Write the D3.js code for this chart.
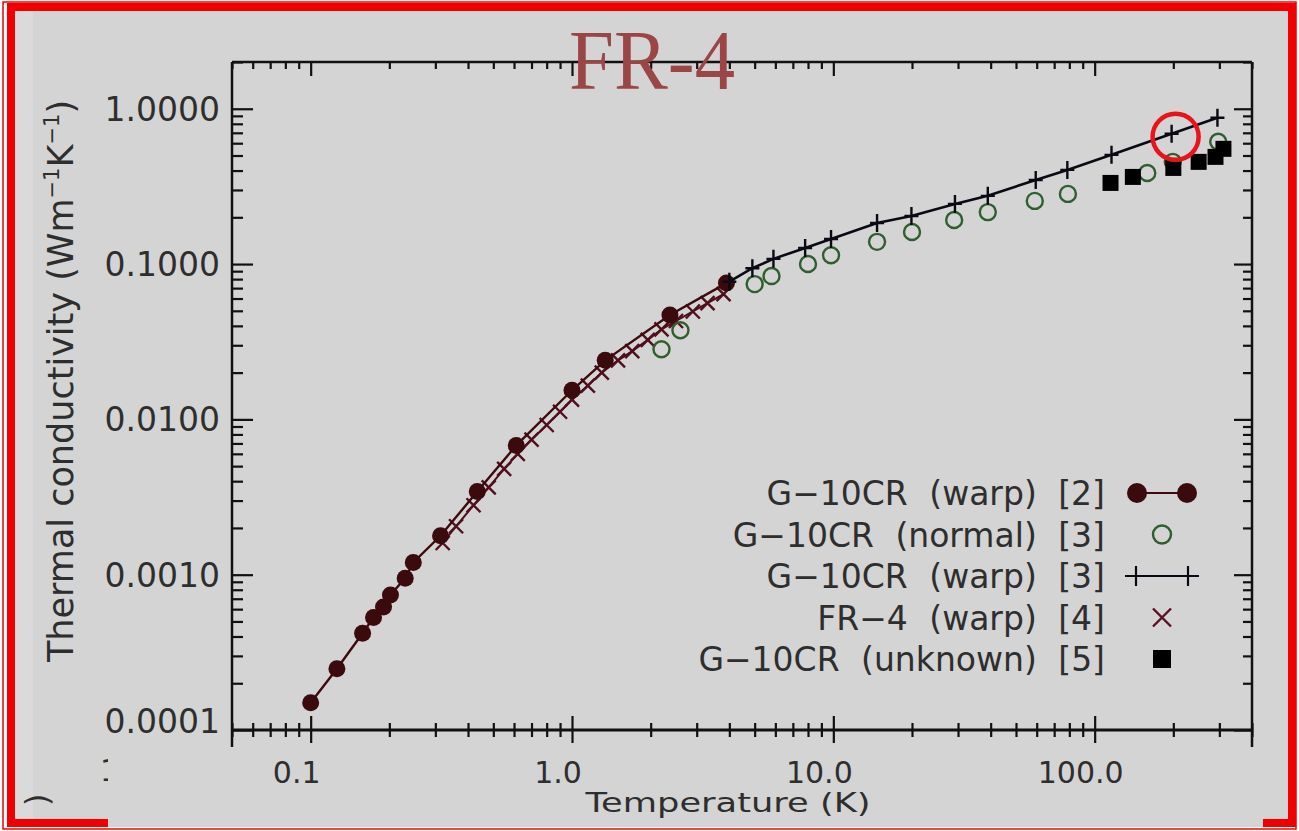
<!DOCTYPE html>
<html>
<head>
<meta charset="utf-8">
<script src="https://cdn.jsdelivr.net/npm/d3@7"></script>
<style>
  body { margin: 0; background: #ffffff; }
  text { font-family: "DejaVu Sans", sans-serif; }
</style>
</head>
<body>
<script>
var w = 1299;
var h = 831;

// G-10CR (warp) [2]
var warp2T = [0.1, 0.126, 0.158, 0.174, 0.19, 0.202, 0.23, 0.247, 0.314, 0.434, 0.612, 1.0, 1.34, 2.37, 3.9];
var warp2K = [1.5e-4, 2.48e-4, 4.2e-4, 5.3e-4, 6.2e-4, 7.4e-4, 9.5e-4, 1.2e-3, 1.78e-3, 3.43e-3, 6.8e-3, 0.0154, 0.024, 0.047, 0.0754];
// G-10CR (normal) [3]
var normalT = [2.2, 2.6, 5, 5.8, 8, 9.8, 14.7, 20, 29, 39, 59, 79, 159, 199, 297];
var normalK = [0.0283, 0.0375, 0.0743, 0.0837, 0.1, 0.114, 0.139, 0.161, 0.192, 0.216, 0.255, 0.283, 0.386, 0.455, 0.613];
// G-10CR (warp) [3]
var warp3T = [4, 4.9, 5.9, 7.8, 9.8, 14.7, 19.9, 29.2, 39, 59.5, 78.6, 116, 197, 295];
var warp3K = [0.077, 0.094, 0.108, 0.127, 0.145, 0.184, 0.204, 0.244, 0.275, 0.348, 0.404, 0.505, 0.69, 0.875];
// FR-4 (warp) [4]
var fr4T = [0.32, 0.36, 0.42, 0.48, 0.55, 0.62, 0.7, 0.8, 0.9, 1.0, 1.15, 1.3, 1.5, 1.7, 1.95, 2.2, 2.5, 2.9, 3.3, 3.8];
var fr4K = [1.6e-3, 2.05e-3, 2.8e-3, 3.65e-3, 4.8e-3, 6.0e-3, 7.4e-3, 9.2e-3, 1.12e-2, 1.34e-2, 1.65e-2, 2.0e-2, 2.4e-2, 2.75e-2, 3.25e-2, 3.8e-2, 4.3e-2, 4.95e-2, 5.6e-2, 6.4e-2];
// G-10CR (unknown) [5]
var unkT = [115, 140, 200, 250, 290, 311];
var unkK = [0.333, 0.364, 0.416, 0.455, 0.49, 0.552];

var xTicks = [0.1, 1, 10, 100];
var xTickLabels = ["0.1", "1.0", "10.0", "100.0"];
var yTicks = [1, 0.1, 0.01, 0.001, 0.0001];
var yTickLabels = ["1.0000", "0.1000", "0.0100", "0.0010", "0.0001"];
var legendLabels = ["G\u221210CR (warp) [2]", "G\u221210CR (normal) [3]", "G\u221210CR (warp) [3]", "FR\u22124 (warp) [4]", "G\u221210CR (unknown) [5]"];

var plotL = 232, plotR = 1252, plotT = 62, plotB = 730;
var textCol = "#2e2e2e";

function zip(a, b) { return a.map(function (d, i) { return [d, b[i]]; }); }

var svg = d3.select("body").append("svg").attr("width", w).attr("height", h);

// frame / background
svg.append("rect").attr("x", 3).attr("y", 2).attr("width", 1293).attr("height", 827)
    .attr("fill", "none").attr("stroke", "#f00000").attr("stroke-width", 1.5);
svg.append("rect").attr("x", 11).attr("y", 7).attr("width", 1281).attr("height", 816)
    .attr("fill", "#d4d4d4").attr("stroke", "#f00000").attr("stroke-width", 8);
svg.append("rect").attr("x", 15).attr("y", 11).attr("width", 18).attr("height", 808).attr("fill", "#dadada");

var xScale = d3.scaleLog().domain([0.05, 400]).range([plotL, plotR]);
var yScale = d3.scaleLog().domain([1e-4, 2]).range([plotB, plotT]);

var xAll = xScale.ticks();
var yAll = yScale.ticks();
function isMajor(v) { return Math.abs(Math.log10(v) - Math.round(Math.log10(v))) < 1e-6; }
var xMinor = xAll.filter(function (v) { return !isMajor(v); });
var yMinor = yAll.filter(function (v) { return !isMajor(v); });

function styleAxis(g) {
    g.select(".domain").remove();
    g.selectAll("line").attr("stroke", "#111").attr("stroke-width", 2.2);
    g.selectAll("text").remove();
}

// ticks on four sides
svg.append("g").attr("transform", "translate(0," + plotB + ")")
    .call(d3.axisBottom(xScale).tickValues(xTicks).tickSizeInner(-14).tickSizeOuter(0)).call(styleAxis);
svg.append("g").attr("transform", "translate(0," + plotB + ")")
    .call(d3.axisBottom(xScale).tickValues(xTicks).tickSizeInner(13).tickSizeOuter(0)).call(styleAxis);
svg.append("g").attr("transform", "translate(0," + plotB + ")")
    .call(d3.axisBottom(xScale).tickValues(xMinor).tickSizeInner(-7).tickSizeOuter(0)).call(styleAxis);
svg.append("g").attr("transform", "translate(0," + plotB + ")")
    .call(d3.axisBottom(xScale).tickValues(xMinor).tickSizeInner(7).tickSizeOuter(0)).call(styleAxis);
svg.append("g").attr("transform", "translate(0," + plotT + ")")
    .call(d3.axisTop(xScale).tickValues(xTicks).tickSizeInner(-14).tickSizeOuter(0)).call(styleAxis);
svg.append("g").attr("transform", "translate(0," + plotT + ")")
    .call(d3.axisTop(xScale).tickValues(xMinor).tickSizeInner(-7).tickSizeOuter(0)).call(styleAxis);
svg.append("g").attr("transform", "translate(" + plotL + ",0)")
    .call(d3.axisLeft(yScale).tickValues(yTicks).tickSizeInner(-21).tickSizeOuter(0)).call(styleAxis);
svg.append("g").attr("transform", "translate(" + plotL + ",0)")
    .call(d3.axisLeft(yScale).tickValues(yMinor).tickSizeInner(-11).tickSizeOuter(0)).call(styleAxis);
svg.append("g").attr("transform", "translate(" + plotR + ",0)")
    .call(d3.axisRight(yScale).tickValues(yTicks).tickSizeInner(-18).tickSizeOuter(0)).call(styleAxis);
svg.append("g").attr("transform", "translate(" + plotR + ",0)")
    .call(d3.axisRight(yScale).tickValues(yMinor).tickSizeInner(-9).tickSizeOuter(0)).call(styleAxis);

// frame lines
svg.append("line").attr("x1", plotL).attr("x2", plotR).attr("y1", plotT).attr("y2", plotT).attr("stroke", "#111").attr("stroke-width", 2.5);
svg.append("line").attr("x1", plotL).attr("x2", plotR).attr("y1", plotB).attr("y2", plotB).attr("stroke", "#111").attr("stroke-width", 3);
svg.append("line").attr("x1", plotL).attr("x2", plotL).attr("y1", plotT).attr("y2", plotB + 20).attr("stroke", "#111").attr("stroke-width", 2.5);
svg.append("line").attr("x1", plotR).attr("x2", plotR).attr("y1", plotT).attr("y2", plotB + 20).attr("stroke", "#111").attr("stroke-width", 2.5);

// y tick labels (lowest one sits just above the bottom axis)
svg.selectAll(".ylab").data(yTicks).enter().append("text")
    .attr("x", plotL - 12)
    .attr("y", function (d, i) { return yScale(d) + 12 - (i === yTicks.length - 1 ? 9 : 0); })
    .attr("text-anchor", "end").attr("font-size", 33).attr("fill", textCol)
    .text(function (d, i) { return yTickLabels[i]; });

// y axis title
svg.append("text")
    .attr("transform", "translate(73,381) rotate(-90)")
    .attr("text-anchor", "middle").attr("font-size", 35).attr("fill", textCol)
    .call(function (t) {
        t.append("tspan").text("Thermal conductivity (Wm");
        t.append("tspan").attr("font-size", 21).attr("dy", -14).text("\u22121");
        t.append("tspan").attr("dy", 14).text("K");
        t.append("tspan").attr("font-size", 21).attr("dy", -14).text("\u22121");
        t.append("tspan").attr("dy", 14).text(")");
    });

var line = d3.line().x(function (d) { return xScale(d[0]); }).y(function (d) { return yScale(d[1]); });

// FR-4 (warp) [4]
var fr4 = zip(fr4T, fr4K);
svg.append("path").datum(fr4).attr("d", line).attr("fill", "none").attr("stroke", "#4a0d14").attr("stroke-width", 2);
svg.selectAll(".fr4").data(fr4).enter().append("path")
    .attr("transform", function (d) { return "translate(" + xScale(d[0]) + "," + yScale(d[1]) + ")"; })
    .attr("d", "M-7,-7L7,7M-7,7L7,-7").attr("stroke", "#4f0f1c").attr("stroke-width", 2.4).attr("fill", "none");

// G-10CR (warp) [2]
var warp2 = zip(warp2T, warp2K);
svg.append("path").datum(warp2).attr("d", line).attr("fill", "none").attr("stroke", "#3d0b0d").attr("stroke-width", 2.4);
svg.selectAll(".w2").data(warp2).enter().append("circle")
    .attr("cx", function (d) { return xScale(d[0]); })
    .attr("cy", function (d) { return yScale(d[1]); })
    .attr("r", 8.5).attr("fill", "#3a0a0c");

// G-10CR (normal) [3]
var normal = zip(normalT, normalK);
svg.selectAll(".nm").data(normal).enter().append("circle")
    .attr("cx", function (d) { return xScale(d[0]); })
    .attr("cy", function (d) { return yScale(d[1]); })
    .attr("r", 8).attr("fill", "none").attr("stroke", "#2f5e2f").attr("stroke-width", 2.4);

// G-10CR (warp) [3]
var warp3 = zip(warp3T, warp3K);
svg.append("path").datum(warp3).attr("d", line).attr("fill", "none").attr("stroke", "#0a0a14").attr("stroke-width", 2.6);
svg.selectAll(".w3").data(warp3).enter().append("path")
    .attr("transform", function (d) { return "translate(" + xScale(d[0]) + "," + yScale(d[1]) + ")"; })
    .attr("d", "M-7,0H7M0,-9V9").attr("stroke", "#0a0a14").attr("stroke-width", 2.4);

// G-10CR (unknown) [5]
var unk = zip(unkT, unkK);
svg.selectAll(".uk").data(unk).enter().append("rect")
    .attr("x", function (d) { return xScale(d[0]) - 8; })
    .attr("y", function (d) { return yScale(d[1]) - 8; })
    .attr("width", 16).attr("height", 16).attr("fill", "#000");

// red annotation circle around the 200 K point of G-10CR (warp) [3]
svg.append("circle")
    .attr("cx", xScale(warp3T[12]) + 4).attr("cy", yScale(warp3K[12]) + 3)
    .attr("r", 23).attr("fill", "none").attr("stroke", "#e8141a").attr("stroke-width", 4.5);

// legend
var legY0 = 505, legStep = 41.5, legTextX = 1105, legSymX = 1162;
svg.selectAll(".leg").data(legendLabels).enter().append("text")
    .attr("x", legTextX)
    .attr("y", function (d, i) { return legY0 + i * legStep; })
    .attr("text-anchor", "end").attr("font-size", 33).attr("fill", textCol)
    .attr("word-spacing", 11)
    .text(function (d) { return d; });
function legCy(i) { return legY0 + i * legStep - 12; }
var lg = svg.append("g");
lg.append("line").attr("x1", legSymX - 25).attr("x2", legSymX + 25).attr("y1", legCy(0)).attr("y2", legCy(0))
    .attr("stroke", "#3d0b0d").attr("stroke-width", 2.2);
[-25, 25].forEach(function (dx) {
    lg.append("circle").attr("cx", legSymX + dx).attr("cy", legCy(0)).attr("r", 10).attr("fill", "#3a0a0c");
});
lg.append("circle").attr("cx", legSymX).attr("cy", legCy(1)).attr("r", 9)
    .attr("fill", "none").attr("stroke", "#2f5e2f").attr("stroke-width", 2.4);
lg.append("line").attr("x1", legSymX - 37).attr("x2", legSymX + 37).attr("y1", legCy(2)).attr("y2", legCy(2))
    .attr("stroke", "#0a0a14").attr("stroke-width", 2.2);
[-26, 26].forEach(function (dx) {
    lg.append("path").attr("transform", "translate(" + (legSymX + dx) + "," + legCy(2) + ")")
        .attr("d", "M0,-10V10").attr("stroke", "#0a0a14").attr("stroke-width", 2.2);
});
lg.append("path").attr("transform", "translate(" + legSymX + "," + legCy(3) + ")")
    .attr("d", "M-9,-9L9,9M-9,9L9,-9").attr("stroke", "#5a1020").attr("stroke-width", 2.4);
lg.append("rect").attr("x", legSymX - 9).attr("y", legCy(4) - 9).attr("width", 18).attr("height", 18).attr("fill", "#000");

// pasted strip at the bottom
svg.append("text").attr("x", 100).attr("y", 781).attr("font-size", 30).attr("fill", textCol).text("1");
svg.append("text").attr("transform", "translate(48,806) rotate(-90)").attr("font-size", 32).attr("fill", textCol).text(")");
svg.append("rect").attr("x", 108).attr("y", 747).attr("width", 1155).attr("height", 80).attr("fill", "#d4d4d4");

svg.selectAll(".xlab").data(xTicks).enter().append("text")
    .attr("x", function (d) { return xScale(d) - 14; })
    .attr("y", 783)
    .attr("text-anchor", "middle").attr("font-size", 30).attr("fill", textCol)
    .text(function (d, i) { return xTickLabels[i]; });

svg.append("text").attr("x", 728).attr("y", 812).attr("text-anchor", "middle")
    .attr("font-size", 27).attr("fill", textCol)
    .attr("textLength", 285).attr("lengthAdjust", "spacingAndGlyphs")
    .text("Temperature (K)");

// title
svg.append("text").attr("x", 652).attr("y", 89).attr("text-anchor", "middle")
    .attr("font-size", 84)
    .attr("textLength", 166).attr("lengthAdjust", "spacingAndGlyphs")
    .attr("fill", "#9b4646").style("font-family", "'Liberation Serif', serif")
    .text("FR-4");
</script>
</body>
</html>
